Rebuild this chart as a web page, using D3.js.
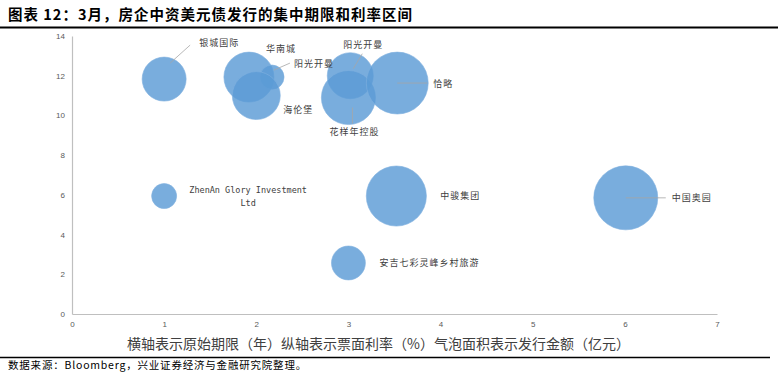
<!DOCTYPE html>
<html>
<head>
<meta charset="utf-8">
<script src="https://cdn.jsdelivr.net/npm/d3@7"></script>
<style>
  body { margin: 0; background: #fff; }
  svg { display: block; font-family: "Noto Sans CJK SC", "Liberation Sans", sans-serif; }
</style>
</head>
<body>
<svg id="chart" width="778" height="372"></svg>
<script>
// issuers, tenor (years), coupon (%), amount (100m CNY)
const names   = ['银城国际', '华南城', '阳光开曼', '海伦堡', '阳光开曼', '花样年控股', '恰略',
                 'ZhenAn Glory Investment Ltd', '中骏集团', '中国奥园', '安吉七彩灵峰乡村旅游'];
const tenor   = [1.0, 1.92, 2.17, 2.0, 3.02, 3.0, 3.53, 1.0, 3.52, 6.01, 3.0];
const coupon  = [11.83, 11.93, 11.93, 11.0, 12.0, 10.9, 11.63, 5.94, 5.94, 5.85, 2.57];
const amount  = [9.6, 12.4, 2.9, 11.4, 10.5, 14.5, 19.0, 3.1, 17.9, 20.3, 5.7];

const xTicks = [0, 1, 2, 3, 4, 5, 6, 7];
const yTicks = [0, 2, 4, 6, 8, 10, 12, 14];

// label placement relative to bubble centre (px), and optional leader line
const labelAt = [
  { dx: 35, dy: -37, lead: [6, -16, 26, -34] },
  { dx: 17, dy: -29 },
  { dx: 22, dy: -14, lead: [2, -7, 18, -14] },
  { dx: 27, dy: 14 },
  { dx: -7, dy: -31, lead: [3, -7, 12, -22] },
  { dx: -19, dy: 34, lead: [4, 10, 4, 26] },
  { dx: 36, dy: 0, lead: [0, 0, 30, 0] },
  { dx: 84, dy: -6, center: true },
  { dx: 44, dy: -1 },
  { dx: 46, dy: 0, lead: [0, 0, 40, 0] },
  { dx: 31, dy: 0 }
];

const svg = d3.select('#chart');
const W = 778;
const plot = { left: 72, right: 717, top: 36, bottom: 314 };

const x = d3.scaleLinear().domain([0, 7]).range([plot.left, plot.right]);
const y = d3.scaleLinear().domain([0, 14]).range([plot.bottom, plot.top]);
const r = d3.scaleSqrt().domain([0, d3.max(amount)]).range([0, 32]);

// title + rules
svg.append('text').attr('x', 8).attr('y', 20)
  .attr('font-size', '14.5px').attr('font-weight', 'bold').attr('letter-spacing', '1px')
  .attr('fill', '#000')
  .text('图表 12：3月，房企中资美元债发行的集中期限和利率区间');
svg.append('line').attr('x1', 0).attr('x2', W).attr('y1', 27.5).attr('y2', 27.5)
  .attr('stroke', '#000').attr('stroke-width', 2);
svg.append('line').attr('x1', 0).attr('x2', 770).attr('y1', 357.5).attr('y2', 357.5)
  .attr('stroke', '#000').attr('stroke-width', 1.5);

// axes
const xAxis = svg.append('g').attr('transform', `translate(0,${plot.bottom})`)
  .call(d3.axisBottom(x).tickValues(xTicks).tickFormat(d3.format('d')).tickSize(0).tickPadding(7));
const yAxis = svg.append('g').attr('transform', `translate(${plot.left},0)`)
  .call(d3.axisLeft(y).tickValues(yTicks).tickFormat(d3.format('d')).tickSize(0).tickPadding(7));
[xAxis, yAxis].forEach(a => {
  a.select('.domain').attr('stroke', '#bfbfbf').attr('stroke-width', 1.2);
  a.selectAll('text').attr('fill', '#595959').attr('font-size', '8px')
    .attr('font-family', 'Liberation Sans, Arial, sans-serif');
});

// bubbles
const idx = d3.range(names.length);
svg.append('g').selectAll('circle').data(idx).join('circle')
  .attr('cx', i => x(tenor[i])).attr('cy', i => y(coupon[i]))
  .attr('r', i => r(amount[i]))
  .attr('fill', '#5b9bd5').attr('fill-opacity', 0.82)
  .attr('stroke', '#7fb0df').attr('stroke-width', 0.6);

// leader lines + labels
const lg = svg.append('g');
idx.forEach(i => {
  const cx = x(tenor[i]), cy = y(coupon[i]), L = labelAt[i];
  if (L.lead) {
    lg.append('line')
      .attr('x1', cx + L.lead[0]).attr('y1', cy + L.lead[1])
      .attr('x2', cx + L.lead[2]).attr('y2', cy + L.lead[3])
      .attr('stroke', '#a6a6a6').attr('stroke-width', 0.8);
  }
  if (L.center) {
    const t = lg.append('text').attr('text-anchor', 'middle')
      .attr('font-family', 'DejaVu Sans Mono, monospace').attr('font-size', '8.5px')
      .attr('fill', '#404040');
    t.append('tspan').attr('x', cx + L.dx).attr('y', cy + L.dy + 3).text('ZhenAn Glory Investment');
    t.append('tspan').attr('x', cx + L.dx).attr('y', cy + L.dy + 16).text('Ltd');
  } else {
    lg.append('text').attr('x', cx + L.dx).attr('y', cy + L.dy + 3.5)
      .attr('font-size', '9px').attr('letter-spacing', '1px').attr('fill', '#404040')
      .text(names[i]);
  }
});

// axis caption
svg.append('text').attr('x', (120 + 637) / 2).attr('y', 349).attr('text-anchor', 'middle')
  .attr('font-size', '14px').attr('fill', '#404040')
  .text('横轴表示原始期限（年）纵轴表示票面利率（%）气泡面积表示发行金额（亿元）');

// source
svg.append('text').attr('x', 8).attr('y', 369).attr('font-size', '10.5px')
  .attr('letter-spacing', '0.8px').attr('fill', '#000')
  .text('数据来源：Bloomberg，兴业证券经济与金融研究院整理。');
</script>
</body>
</html>
